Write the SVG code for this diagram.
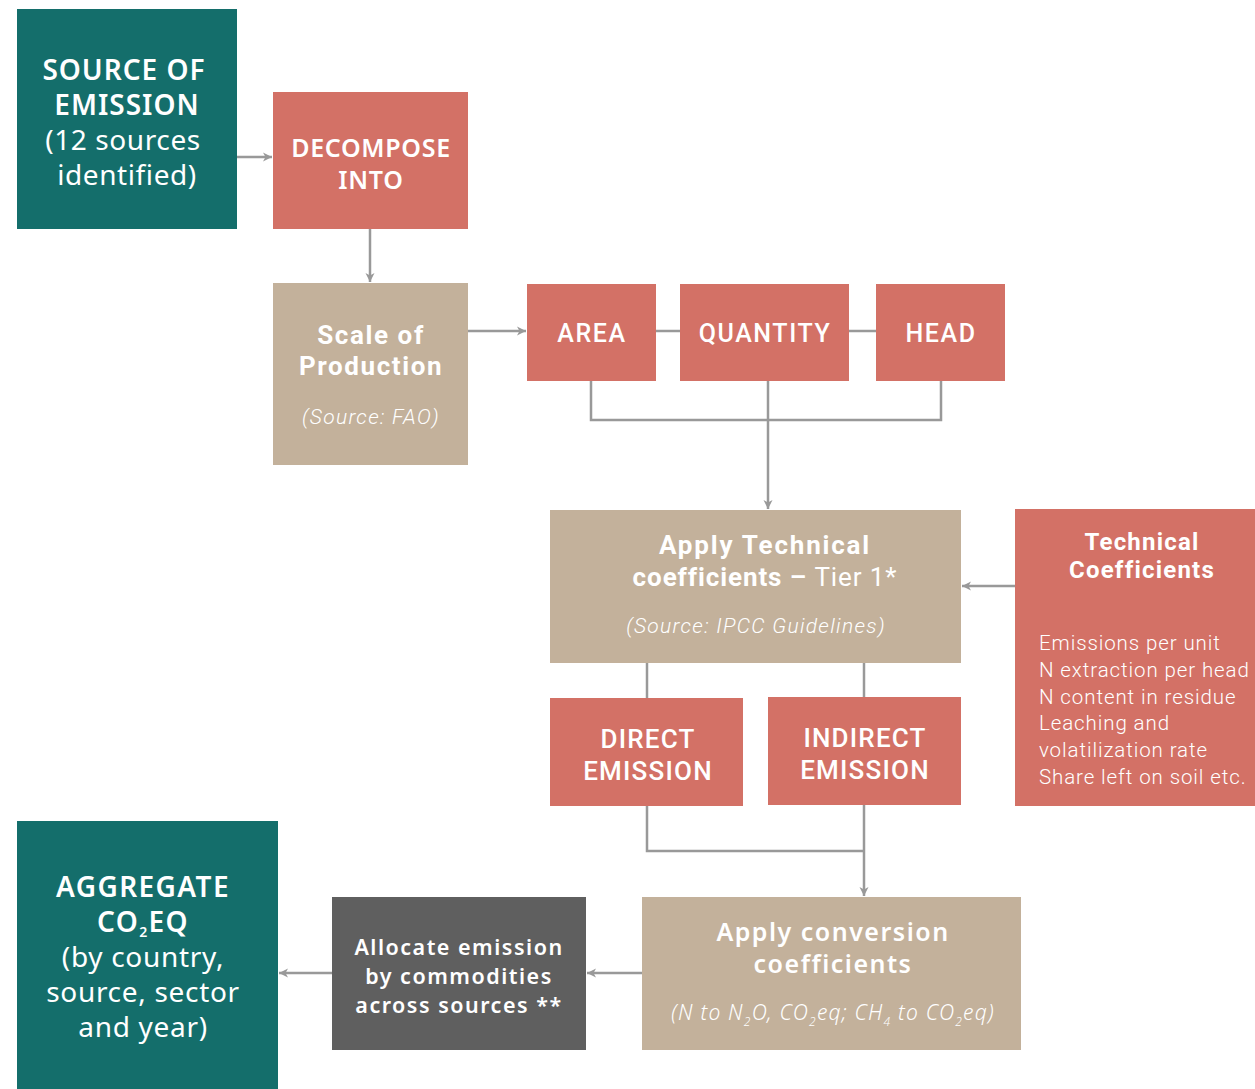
<svg xmlns="http://www.w3.org/2000/svg" width="1255" height="1089" viewBox="0 0 1255 1089">
<defs>
<marker id="ah" markerWidth="12" markerHeight="12" refX="10" refY="6" orient="auto" markerUnits="userSpaceOnUse">
<path d="M1,1.5 L10,6 L1,10.5 L3.5,6 Z" fill="#999999"/>
</marker>
<style>
.teal{fill:#146E6B}
.sal{fill:#D37166}
.tan{fill:#C3B19B}
.gray{fill:#5F5F5F}
.t{fill:#ffffff;font-family:"Noto Sans","DejaVu Sans",sans-serif;text-anchor:middle}
.r{fill:#ffffff;font-family:Roboto,"Liberation Sans",sans-serif;text-anchor:middle}
.c{fill:none;stroke:#999999;stroke-width:2.5}
</style>
</defs>
<rect width="1255" height="1089" fill="#ffffff"/>
<g id="connectors">
<line class="c" x1="237" y1="157" x2="272" y2="157" marker-end="url(#ah)"/>
<line class="c" x1="370" y1="229" x2="370" y2="282" marker-end="url(#ah)"/>
<line class="c" x1="468" y1="331" x2="526" y2="331" marker-end="url(#ah)"/>
<line class="c" x1="656" y1="331" x2="680" y2="331"/>
<line class="c" x1="849" y1="331" x2="876" y2="331"/>
<polyline class="c" points="591,381 591,420 941,420 941,381"/>
<line class="c" x1="768" y1="381" x2="768" y2="509" marker-end="url(#ah)"/>
<line class="c" x1="1015" y1="586" x2="962" y2="586" marker-end="url(#ah)"/>
<line class="c" x1="647" y1="663" x2="647" y2="698"/>
<line class="c" x1="864" y1="663" x2="864" y2="697"/>
<polyline class="c" points="647,806 647,851 864,851"/>
<line class="c" x1="864" y1="805" x2="864" y2="896" marker-end="url(#ah)"/>
<line class="c" x1="642" y1="973" x2="587" y2="973" marker-end="url(#ah)"/>
<line class="c" x1="332" y1="973" x2="279" y2="973" marker-end="url(#ah)"/>
</g>
<g id="source">
<rect class="teal" x="17" y="9" width="220" height="220"/>
<text class="t" x="124" y="80" font-size="28" font-weight="600" letter-spacing="1">SOURCE OF</text>
<text class="t" x="127" y="115" font-size="28" font-weight="600" letter-spacing="1">EMISSION</text>
<text class="t" x="123" y="150" font-size="28" letter-spacing="0.6">(12 sources</text>
<text class="t" x="127" y="185" font-size="28" letter-spacing="0.6">identified)</text>
</g>
<g id="decompose">
<rect class="sal" x="273" y="92" width="195" height="137"/>
<text class="t" x="371" y="157" font-size="25" font-weight="600" letter-spacing="0.7">DECOMPOSE</text>
<text class="t" x="371" y="189" font-size="25" font-weight="600" letter-spacing="0.7">INTO</text>
</g>
<g id="scale">
<rect class="tan" x="273" y="283" width="195" height="182"/>
<text class="r" x="371" y="344" font-size="26" font-weight="bold" letter-spacing="1.6">Scale of</text>
<text class="r" x="371" y="375" font-size="26" font-weight="bold" letter-spacing="1.6">Production</text>
<text class="r" x="371" y="424" font-size="21" font-style="italic" font-weight="300" letter-spacing="1.3">(Source: FAO)</text>
</g>
<g id="area">
<rect class="sal" x="527" y="284" width="129" height="97"/>
<text class="r" x="592" y="342" font-size="25" font-weight="500" letter-spacing="1.6">AREA</text>
</g>
<g id="quantity">
<rect class="sal" x="680" y="284" width="169" height="97"/>
<text class="r" x="765" y="342" font-size="25" font-weight="500" letter-spacing="1.6">QUANTITY</text>
</g>
<g id="head">
<rect class="sal" x="876" y="284" width="129" height="97"/>
<text class="r" x="941" y="342" font-size="25" font-weight="500" letter-spacing="1.6">HEAD</text>
</g>
<g id="apply-technical">
<rect class="tan" x="550" y="510" width="411" height="153"/>
<text class="r" x="765" y="554" font-size="26" font-weight="bold" letter-spacing="1.8">Apply Technical</text>
<text class="r" x="765" y="586" font-size="26" letter-spacing="0.9"><tspan font-weight="bold">coefficients – </tspan><tspan>Tier 1*</tspan></text>
<text class="r" x="756" y="633" font-size="21" font-style="italic" font-weight="300" letter-spacing="1.3">(Source: IPCC Guidelines)</text>
</g>
<g id="technical-coefficients">
<rect class="sal" x="1015" y="509" width="240" height="297"/>
<text class="r" x="1142" y="550" font-size="24" font-weight="bold" letter-spacing="1.2">Technical</text>
<text class="r" x="1142" y="578" font-size="24" font-weight="bold" letter-spacing="1.2">Coefficients</text>
<g font-family="Roboto,'Liberation Sans',sans-serif" font-size="20.5" fill="#ffffff" font-weight="300" letter-spacing="0.9">
<text x="1039" y="650">Emissions per unit</text>
<text x="1039" y="677">N extraction per head</text>
<text x="1039" y="704">N content in residue</text>
<text x="1039" y="730">Leaching and</text>
<text x="1039" y="757">volatilization rate</text>
<text x="1039" y="784">Share left on soil etc.</text>
</g>
</g>
<g id="direct">
<rect class="sal" x="550" y="698" width="193" height="108"/>
<text class="r" x="648" y="748" font-size="26" font-weight="500" letter-spacing="1.2">DIRECT</text>
<text class="r" x="648" y="780" font-size="26" font-weight="500" letter-spacing="1.2">EMISSION</text>
</g>
<g id="indirect">
<rect class="sal" x="768" y="697" width="193" height="108"/>
<text class="r" x="865" y="747" font-size="26" font-weight="500" letter-spacing="1.2">INDIRECT</text>
<text class="r" x="865" y="779" font-size="26" font-weight="500" letter-spacing="1.2">EMISSION</text>
</g>
<g id="conversion">
<rect class="tan" x="642" y="897" width="379" height="153"/>
<text class="t" x="833" y="941" font-size="25" font-weight="600" letter-spacing="1.5">Apply conversion</text>
<text class="t" x="833" y="973" font-size="25" font-weight="600" letter-spacing="1.5">coefficients</text>
<text class="t" x="833" y="1020" font-size="21" font-style="italic" font-weight="300" letter-spacing="1.2">(N to N<tspan font-size="12" dy="6">2</tspan><tspan dy="-6">O, CO</tspan><tspan font-size="12" dy="6">2</tspan><tspan dy="-6">eq; CH</tspan><tspan font-size="12" dy="6">4</tspan><tspan dy="-6"> to CO</tspan><tspan font-size="12" dy="6">2</tspan><tspan dy="-6">eq)</tspan></text>
</g>
<g id="allocate">
<rect class="gray" x="332" y="897" width="254" height="153"/>
<text class="t" x="459" y="955" font-size="21.5" font-weight="600" letter-spacing="1.5">Allocate emission</text>
<text class="t" x="459" y="984" font-size="21.5" font-weight="600" letter-spacing="1.5">by commodities</text>
<text class="t" x="459" y="1013" font-size="21.5" font-weight="600" letter-spacing="1.5">across sources **</text>
</g>
<g id="aggregate">
<rect class="teal" x="17" y="821" width="261" height="268"/>
<text class="t" x="143" y="897" font-size="28" font-weight="600" letter-spacing="1.4">AGGREGATE</text>
<text class="t" x="143" y="932" font-size="28" font-weight="600" letter-spacing="1.4">CO<tspan font-size="14" dy="5">2</tspan><tspan dy="-5">EQ</tspan></text>
<text class="t" x="143" y="967" font-size="28" letter-spacing="0.7">(by country,</text>
<text class="t" x="143" y="1002" font-size="28" letter-spacing="0.7">source, sector</text>
<text class="t" x="143" y="1037" font-size="28" letter-spacing="0.7">and year)</text>
</g>
</svg>
